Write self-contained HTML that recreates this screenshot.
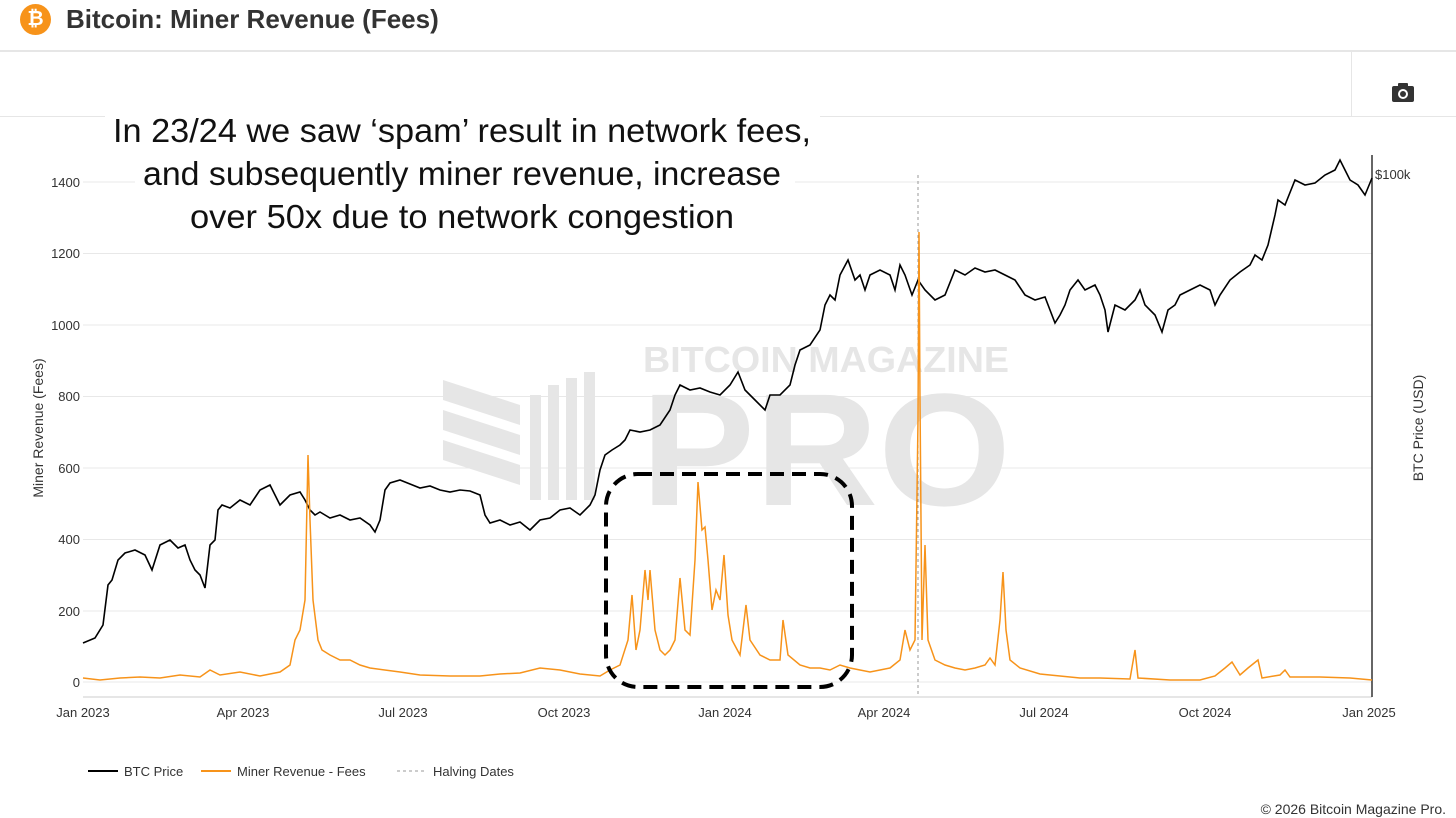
<!DOCTYPE html>
<html><head><meta charset="utf-8"><style>
body{margin:0;width:1456px;height:818px;background:#fff;font-family:"Liberation Sans",sans-serif;overflow:hidden;position:relative}
.t{position:absolute}
</style></head><body>
<div class="t" style="left:0;top:0;width:1456px;height:50px;border-bottom:2px solid #e6e6e6"></div>
<div class="t" style="left:20px;top:4px;width:31px;height:31px;border-radius:50%;background:#f7931a;color:#fff;font-weight:bold;font-size:20px;text-align:center;line-height:31px">₿</div>
<div class="t" style="left:66px;top:4px;font-size:26px;font-weight:bold;color:#333">Bitcoin: Miner Revenue (Fees)</div>
<div class="t" style="left:0;top:116px;width:1456px;height:1px;background:#e6e6e6"></div>
<div class="t" style="left:1351px;top:51px;width:1px;height:65px;background:#e6e6e6"></div>
<svg class="t" style="left:1392px;top:83px" width="22" height="19"><rect x="0" y="3" width="22" height="16" rx="2" fill="#333"/><rect x="6" y="0" width="10" height="5" rx="1" fill="#333"/><circle cx="11" cy="11" r="5" fill="#fff"/><circle cx="11" cy="11" r="3" fill="#333"/></svg>
<svg class="t" style="left:0;top:0" width="1456" height="818">
<g stroke="#e8e8e8" stroke-width="1">
<line x1="83" x2="1372" y1="182" y2="182"/><line x1="83" x2="1372" y1="253.5" y2="253.5"/><line x1="83" x2="1372" y1="325" y2="325"/><line x1="83" x2="1372" y1="396.5" y2="396.5"/><line x1="83" x2="1372" y1="468" y2="468"/><line x1="83" x2="1372" y1="539.5" y2="539.5"/><line x1="83" x2="1372" y1="611" y2="611"/><line x1="83" x2="1372" y1="682" y2="682"/>
</g>
<text x="826" y="372" font-size="36" font-weight="bold" fill="#e6e6e6" text-anchor="middle" textLength="366" lengthAdjust="spacingAndGlyphs">BITCOIN MAGAZINE</text>
<text x="826" y="505" font-size="160" font-weight="bold" fill="#e6e6e6" text-anchor="middle" textLength="370" lengthAdjust="spacingAndGlyphs">PRO</text>
<g fill="#e6e6e6"><polygon points="443,380 520,405 520,425 443,400"/><polygon points="443,410 520,435 520,455 443,430"/><polygon points="443,440 520,465 520,485 443,460"/><rect x="530" y="395" width="11" height="105"/><rect x="548" y="385" width="11" height="115"/><rect x="566" y="378" width="11" height="122"/><rect x="584" y="372" width="11" height="128"/></g>
<line x1="83" y1="697" x2="1372" y2="697" stroke="#ccc"/>
<line x1="1372" y1="155" x2="1372" y2="697" stroke="#333" stroke-width="1.5"/>
<line x1="918" y1="175" x2="918" y2="697" stroke="#999" stroke-dasharray="3,3"/>
<g font-size="13" fill="#333">
<text x="80" y="187" text-anchor="end">1400</text><text x="80" y="258" text-anchor="end">1200</text><text x="80" y="330" text-anchor="end">1000</text><text x="80" y="401" text-anchor="end">800</text><text x="80" y="473" text-anchor="end">600</text><text x="80" y="544" text-anchor="end">400</text><text x="80" y="616" text-anchor="end">200</text><text x="80" y="687" text-anchor="end">0</text>
<text x="83" y="717" text-anchor="middle">Jan 2023</text><text x="243" y="717" text-anchor="middle">Apr 2023</text><text x="403" y="717" text-anchor="middle">Jul 2023</text><text x="564" y="717" text-anchor="middle">Oct 2023</text><text x="725" y="717" text-anchor="middle">Jan 2024</text><text x="884" y="717" text-anchor="middle">Apr 2024</text><text x="1044" y="717" text-anchor="middle">Jul 2024</text><text x="1205" y="717" text-anchor="middle">Oct 2024</text><text x="1369" y="717" text-anchor="middle">Jan 2025</text>
<text x="1375" y="179">$100k</text>
<text transform="translate(43,428) rotate(-90)" text-anchor="middle" font-size="14">Miner Revenue (Fees)</text>
<text transform="translate(1423,428) rotate(-90)" text-anchor="middle" font-size="14">BTC Price (USD)</text>
</g>
<polyline fill="none" stroke="#000" stroke-width="1.6" points="83,643 95,638 103,625 108,585 112,580 118,560 125,553 135,550 145,555 152,570 160,545 170,540 178,548 185,545 190,560 195,570 200,575 205,588 210,545 215,540 218,510 222,505 230,508 240,500 250,505 260,490 270,485 275,495 280,505 290,495 300,492 305,500 310,510 315,515 320,512 330,518 340,515 350,520 360,518 370,525 375,532 380,520 385,490 390,483 400,480 410,484 420,488 430,486 440,490 450,492 460,490 470,491 480,495 485,515 490,523 500,520 510,525 520,522 530,530 540,520 550,518 560,510 570,508 580,515 590,505 595,495 600,470 605,455 612,450 620,445 625,440 630,430 640,432 650,430 660,425 670,410 675,395 680,385 690,390 700,388 710,392 720,395 730,385 738,372 745,390 755,400 765,410 770,395 780,395 790,385 795,365 800,350 810,345 820,330 825,305 830,295 835,300 840,275 848,260 855,280 860,275 865,290 870,275 880,270 890,275 895,290 900,265 905,275 912,295 918,280 925,290 935,300 945,295 955,270 965,275 975,268 985,272 995,270 1005,275 1015,280 1025,295 1035,300 1045,297 1050,310 1055,323 1060,315 1065,305 1070,290 1078,280 1085,290 1095,285 1100,295 1105,310 1108,332 1115,305 1125,310 1135,300 1140,290 1145,305 1155,315 1162,332 1168,310 1175,305 1180,295 1190,290 1200,285 1210,290 1215,305 1220,295 1230,280 1240,272 1250,265 1255,255 1262,260 1268,245 1275,215 1278,200 1285,205 1295,180 1305,185 1315,183 1325,175 1335,170 1340,160 1345,170 1350,180 1358,185 1365,195 1372,178"/>
<polyline fill="none" stroke="#f7931a" stroke-width="1.5" points="83,678 100,680 120,678 140,677 160,678 180,675 200,677 210,670 220,675 240,672 260,676 280,672 290,665 295,640 300,630 305,600 308,455 310,520 313,600 318,640 322,650 330,655 340,660 350,660 360,665 370,668 400,672 420,675 450,676 480,676 500,674 520,673 540,668 560,670 580,674 600,676 610,670 620,665 628,640 632,595 636,650 640,630 645,570 648,600 650,570 655,630 660,650 665,655 670,650 675,640 680,578 685,630 690,635 695,560 698,482 702,530 705,527 708,560 712,610 716,590 720,600 724,555 728,615 732,640 740,655 746,605 750,640 760,655 770,660 780,660 783,620 788,655 800,665 810,668 820,668 830,670 840,665 850,668 860,670 870,672 880,670 890,668 900,660 905,630 910,650 915,640 918,420 919,232 920,400 922,640 925,545 928,640 935,660 945,665 955,668 965,670 975,668 985,665 990,658 995,665 1000,620 1003,572 1006,630 1010,660 1020,668 1040,674 1060,676 1080,678 1100,678 1130,679 1135,650 1138,678 1170,680 1200,680 1215,676 1225,668 1232,662 1240,675 1248,668 1258,660 1262,678 1280,675 1285,670 1290,677 1320,677 1350,678 1372,680"/>
<rect x="606" y="474" width="246" height="213" rx="32" fill="none" stroke="#000" stroke-width="4" stroke-dasharray="14,8"/>
<rect x="105" y="112" width="715" height="48" fill="#fff"/>
<rect x="135" y="155" width="660" height="44" fill="#fff"/>
<rect x="180" y="197" width="565" height="44" fill="#fff"/>
<g font-size="33" fill="#111" text-anchor="middle">
<text x="462" y="142" textLength="698" lengthAdjust="spacingAndGlyphs">In 23/24 we saw ‘spam’ result in network fees,</text>
<text x="462" y="185" textLength="638" lengthAdjust="spacingAndGlyphs">and subsequently miner revenue, increase</text>
<text x="462" y="228" textLength="544" lengthAdjust="spacingAndGlyphs">over 50x due to network congestion</text>
</g>
<g font-size="13" fill="#333">
<line x1="88" y1="771" x2="118" y2="771" stroke="#000" stroke-width="2"/><text x="124" y="776">BTC Price</text>
<line x1="201" y1="771" x2="231" y2="771" stroke="#f7931a" stroke-width="2"/><text x="237" y="776">Miner Revenue - Fees</text>
<line x1="397" y1="771" x2="427" y2="771" stroke="#999" stroke-dasharray="3,3"/><text x="433" y="776">Halving Dates</text>
<text x="1446" y="814" text-anchor="end" font-size="14">© 2026 Bitcoin Magazine Pro.</text>
</g>
</svg>
</body></html>
